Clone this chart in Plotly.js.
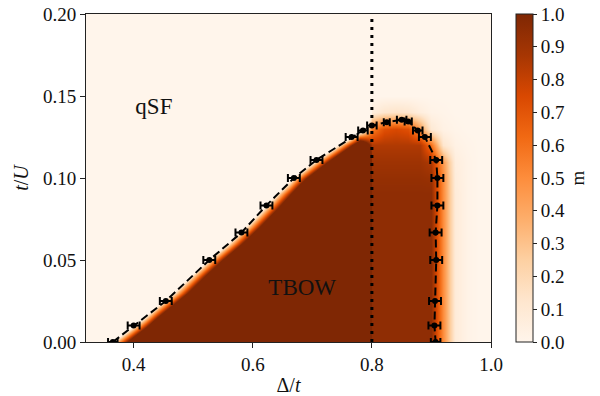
<!DOCTYPE html>
<html><head><meta charset="utf-8">
<script src="https://cdn.plot.ly/plotly-3.0.1.min.js"></script>
<style>html,body{margin:0;padding:0;background:#fff}#plot{width:600px;height:396px}</style>
</head><body><div id="plot"></div>
<script>
// grid of the order parameter m
// (values beyond 0..1 only mark how far a node lies from the sharp edge; colours saturate at 0 and 1)
const gridDelta = [0.32,0.34,0.36,0.38,0.40,0.42,0.44,0.46,0.48,0.50,0.52,0.54,0.56,0.58,0.60,0.62,0.64,0.66,0.68,0.70,0.72,0.74,0.76,0.78,0.80,0.82,0.84,0.86,0.88,0.90,0.92,0.94,0.96,0.98,1.00];
const gridTU = [0,0.01,0.02,0.03,0.04,0.05,0.06,0.07,0.08,0.09,0.10,0.11,0.12,0.13,0.14,0.15,0.16,0.17,0.18,0.19,0.20];
const mGrid = [
 [-1.7,-0.9,-0.1,0.7,1.5,2.3,3,3,3,3,3,3,3,3,3,3,3,3,3,3,3,3,3,3, 0.95,0.95,0.95,0.95,0.95,0.95,0.5,0.08,0.02,0,0],
 [-2,-2,-1.5,-0.7,0.1,0.9,1.7,2.5,3,3,3,3,3,3,3,3,3,3,3,3,3,3,3,3, 0.95,0.95,0.95,0.95,0.95,0.95,0.5,0.08,0.02,0,0],
 [-2,-2,-2,-2,-1.3,-0.5,0.3,1.1,1.9,2.7,3,3,3,3,3,3,3,3,3,3,3,3,3,3, 0.95,0.95,0.95,0.95,0.95,0.95,0.5,0.08,0.02,0,0],
 [-2,-2,-2,-2,-2,-1.82,-1.02,-0.22,0.58,1.38,2.18,3,3,3,3,3,3,3,3,3,3,3,3,3, 0.95,0.95,0.95,0.95,0.95,0.95,0.5,0.08,0.02,0,0],
 [-2,-2,-2,-2,-2,-2,-2,-1.38,-0.58,0.22,1.02,1.82,2.62,3,3,3,3,3,3,3,3,3,3,3, 0.95,0.95,0.95,0.95,0.95,0.95,0.5,0.08,0.02,0,0],
 [-2,-2,-2,-2,-2,-2,-2,-2,-1.74,-0.94,-0.14,0.66,1.46,2.26,3,3,3,3,3,3,3,3,3,3, 0.95,0.95,0.95,0.95,0.95,0.95,0.5,0.08,0.02,0,0],
 [-2,-2,-2,-2,-2,-2,-2,-2,-2,-2,-1.42,-0.62,0.18,0.98,1.78,2.58,3,3,3,3,3,3,3,3, 0.95,0.95,0.95,0.95,0.95,0.95,0.5,0.08,0.02,0,0],
 [-2,-2,-2,-2,-2,-2,-2,-2,-2,-2,-2,-1.82,-1.02,-0.22,0.58,1.38,2.18,3,3,3,3,3,3,3, 0.95,0.95,0.95,0.95,0.95,0.95,0.5,0.08,0.02,0,0],
 [-2,-2,-2,-2,-2,-2,-2,-2,-2,-2,-2,-2,-2,-1.26,-0.46,0.34,1.14,1.94,2.74,3,3,3,3,3, 0.95,0.95,0.95,0.95,0.95,0.95,0.5,0.08,0.02,0,0],
 [-2,-2,-2,-2,-2,-2,-2,-2,-2,-2,-2,-2,-2,-2,-1.5,-0.7,0.1,0.9,1.7,2.5,3,3,3,3, 0.95,0.95,0.95,0.95,0.95,0.95,0.5,0.08,0.02,0,0],
 [-2,-2,-2,-2,-2,-2,-2,-2,-2,-2,-2,-2,-2,-2,-2,-1.82,-1.02,-0.22,0.58,1.38,2.18,3,3,3, 0.93,0.93,0.93,0.93,0.93,0.92,0.5,0.07,0.02,0,0],
 [-2,-2,-2,-2,-2,-2,-2,-2,-2,-2,-2,-2,-2,-2,-2,-2,-2,-1.62,-0.82,-0.02,0.78,1.58,2.38,3, 0.9,0.9,0.9,0.9,0.9,0.85,0.45,0.06,0.02,0,0],
 [-2,-2,-2,-2,-2,-2,-2,-2,-2,-2,-2,-2,-2,-2,-2,-2,-2,-2,-2,-1.66,-0.86,-0.06,0.74,1.54, 0.85,0.85,0.85,0.85,0.85,0.6,0.12,0.03,0.01,0,0],
 [-2,-2,-2,-2,-2,-2,-2,-2,-2,-2,-2,-2,-2,-2,-2,-2,-2,-2,-2,-2,-2,-1.9,-1.1,-0.3, 0.55,0.72,0.75,0.72,0.45,0.1,0.03,0.01,0,0,0],
 [-1,-1,-1,-1,-1,-1,-1,-1,-1,-1,-1,-1,-1,-1,-1,-1,-1,-1,-1,-1,-1,-1,-1,-1, 0.06,0.12,0.14,0.12,0.06,0.02,0.01,0,0,0,0],
 [0,0,0,0,0,0,0,0,0,0,0,0,0,0,0,0,0,0,0,0,0,0,0,0,0,0,0,0,0,0,0,0,0,0,0],
 [0,0,0,0,0,0,0,0,0,0,0,0,0,0,0,0,0,0,0,0,0,0,0,0,0,0,0,0,0,0,0,0,0,0,0],
 [0,0,0,0,0,0,0,0,0,0,0,0,0,0,0,0,0,0,0,0,0,0,0,0,0,0,0,0,0,0,0,0,0,0,0],
 [0,0,0,0,0,0,0,0,0,0,0,0,0,0,0,0,0,0,0,0,0,0,0,0,0,0,0,0,0,0,0,0,0,0,0],
 [0,0,0,0,0,0,0,0,0,0,0,0,0,0,0,0,0,0,0,0,0,0,0,0,0,0,0,0,0,0,0,0,0,0,0],
 [0,0,0,0,0,0,0,0,0,0,0,0,0,0,0,0,0,0,0,0,0,0,0,0,0,0,0,0,0,0,0,0,0,0,0]
];

// phase-boundary points with horizontal error bars
const deltaPts = [0.365,0.400,0.454,0.527,0.581,0.623,0.669,0.707,0.766,0.785,0.800,0.825,0.850,0.861,0.877,0.889,0.908,0.910,0.910,0.907,0.908,0.906,0.905,0.907];
const tuPts    = [0,0.01,0.025,0.05,0.0667,0.0833,0.1,0.111,0.125,0.129,0.132,0.134,0.1355,0.1345,0.129,0.125,0.111,0.1,0.0833,0.0667,0.05,0.025,0.01,0];
const deltaErr = [0.008,0.01,0.01,0.01,0.01,0.01,0.01,0.01,0.01,0.008,0.008,0.005,0.008,0.006,0.008,0.01,0.01,0.01,0.01,0.01,0.01,0.01,0.01,0.008];

// vertical dotted reference line
const vlineDelta = [0.8, 0.8];
const vlineTU = [0, 0.2];

// phase labels
const labelText = ['qSF','TBOW'];
const labelDelta = [0.434, 0.683];
const labelTU = [0.1427, 0.0323];

// tick labels
const xTicks = [0.4,0.6,0.8,1.0];
const yTicks = [0,0.05,0.10,0.15,0.20];
const cbTicks = [0,0.1,0.2,0.3,0.4,0.5,0.6,0.7,0.8,0.9,1.0];

const oranges = [[0,'#fff5eb'],[0.125,'#fee6ce'],[0.25,'#fdd0a2'],[0.375,'#fdae6b'],[0.5,'#fd8d3c'],[0.625,'#f16913'],[0.75,'#d94801'],[0.875,'#a63603'],[1,'#7f2704']];
const FONT = 'Liberation Serif, DejaVu Serif, serif';

const traces = [
 {type:'heatmap', x:gridDelta, y:gridTU, z:mGrid, zmin:0, zmax:1, zsmooth:'best',
  colorscale:oranges, hoverinfo:'skip',
  colorbar:{x:1.0617, xanchor:'left', xpad:0, ypad:0, y:0.5, yanchor:'middle', len:1, lenmode:'fraction',
    thickness:17, outlinewidth:1, outlinecolor:'#222', ticks:'outside', ticklen:4, tickwidth:1, tickcolor:'#222',
    tickvals:cbTicks, tickformat:'.1f', tickfont:{family:FONT, size:19, color:'#111'},
    title:{text:'m', side:'right', font:{family:FONT, size:19, color:'#111'}}}},
 {type:'scatter', mode:'lines', x:vlineDelta, y:vlineTU, showlegend:false, hoverinfo:'skip',
  line:{color:'#000', width:3, dash:'3px,5px'}},
 {type:'scatter', mode:'lines+markers', x:deltaPts, y:tuPts, showlegend:false, hoverinfo:'skip',
  line:{color:'#000', width:2, dash:'8px,4px'},
  marker:{color:'#000', size:6},
  error_x:{type:'data', array:deltaErr, visible:true, color:'#000', thickness:2, width:4}},
 {type:'scatter', mode:'text', x:labelDelta, y:labelTU, text:labelText, showlegend:false, hoverinfo:'skip',
  textfont:{family:FONT, size:23, color:'#111'}, textposition:'middle center'}
];

const layout = {
 width:600, height:396,
 margin:{l:86, r:109, t:14, b:54},
 paper_bgcolor:'#fff', plot_bgcolor:'#fff',
 showlegend:false,
 xaxis:{range:[0.32,1.0], tickvals:xTicks, tickformat:'.1f', showline:true, mirror:true, linecolor:'#222', linewidth:1,
   ticks:'outside', ticklen:5, tickcolor:'#222', showgrid:false, zeroline:false,
   tickfont:{family:FONT, size:19, color:'#111'},
   title:{text:'Δ/<i>t</i>', font:{family:FONT, size:20, color:'#111'}, standoff:6}},
 yaxis:{range:[0,0.2], tickvals:yTicks, tickformat:'.2f', showline:true, mirror:true, linecolor:'#222', linewidth:1,
   ticks:'outside', ticklen:5, tickcolor:'#222', showgrid:false, zeroline:false,
   tickfont:{family:FONT, size:19, color:'#111'},
   title:{text:'<i>t</i>/<i>U</i>', font:{family:FONT, size:20, color:'#111'}, standoff:8}}
};
Plotly.newPlot('plot', traces, layout, {staticPlot:true, displayModeBar:false});
</script></body></html>
